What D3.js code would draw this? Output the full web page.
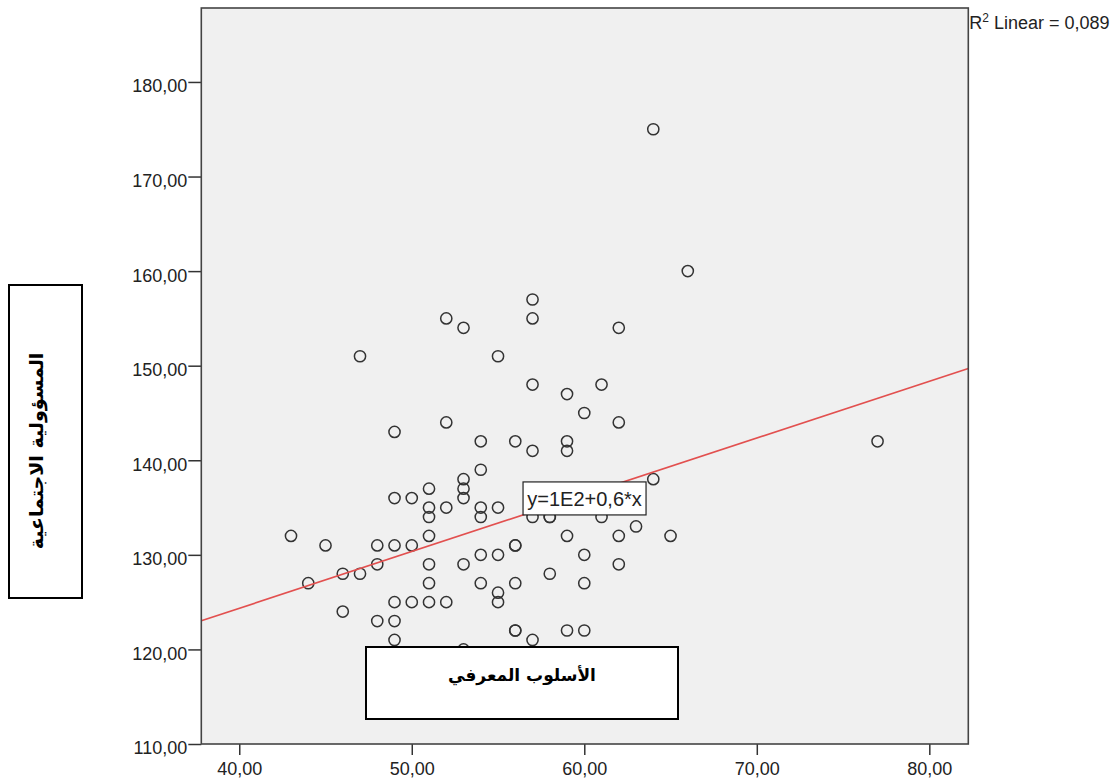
<!DOCTYPE html>
<html lang="ar">
<head>
<meta charset="UTF-8">
<title>Scatter</title>
<script src="https://cdn.jsdelivr.net/npm/d3@7"></script>
<style>
  body { margin: 0; background: #fff; }
  svg text { font-family: "Liberation Sans", Arial, sans-serif; }
</style>
</head>
<body>
<svg id="chart" width="1118" height="780"></svg>
<script>
// data
const cognitiveStyle = [64, 66, 57, 52, 57, 53, 62, 47, 55, 57, 61, 59, 60, 52, 62, 49, 54, 56, 59, 59,
  57, 77, 54, 53, 53, 53, 51, 64, 49, 50, 51, 51, 52, 54, 54, 55, 57, 58, 58, 61,
  63, 59, 62, 65, 43, 45, 48, 49, 50, 51, 48, 46, 47, 44, 51, 51, 53, 54, 55, 56,
  56, 54, 55, 55, 56, 58, 60, 60, 62, 46, 49, 50, 51, 52, 48, 49, 49, 53, 56, 56,
  57, 59, 60];
const socialResp = [175, 160, 157, 155, 155, 154, 154, 151, 151, 148, 148, 147, 145, 144, 144, 143, 142, 142, 142, 141,
  141, 142, 139, 138, 137, 136, 137, 138, 136, 136, 135, 134, 135, 135, 134, 135, 134, 134, 134, 134,
  133, 132, 132, 132, 132, 131, 131, 131, 131, 132, 129, 128, 128, 127, 129, 127, 129, 130, 130, 131,
  131, 127, 126, 125, 127, 128, 130, 127, 129, 124, 125, 125, 125, 125, 123, 123, 121, 120, 122, 122,
  121, 122, 122];

const xTicks = [40, 50, 60, 70, 80];
const yTicks = [110, 120, 130, 140, 150, 160, 170, 180];
const xDomain = [37.8, 82.26];
const yDomain = [110, 187.82];

const fitIntercept = 100.35;
const fitSlope = 0.6;
const fitLabel = "y=1E2+0,6*x";
const fitLabelAt = 56.45;
const r2Value = "0,089";

const xTitle = "الأسلوب المعرفي";
const yTitle = "المسؤولية الاجتماعية";

const fmt = d => d.toFixed(2).replace(".", ",");

const svg = d3.select("#chart");
const plot = { left: 201.3, right: 968.3, top: 8, bottom: 744 };

const x = d3.scaleLinear().domain(xDomain).range([plot.left, plot.right]);
const y = d3.scaleLinear().domain(yDomain).range([plot.bottom, plot.top]);

// plot area
svg.append("rect")
  .attr("x", plot.left).attr("y", plot.top)
  .attr("width", plot.right - plot.left).attr("height", plot.bottom - plot.top)
  .attr("fill", "#f0f0f0");

svg.append("clipPath").attr("id", "clip")
  .append("rect")
  .attr("x", plot.left).attr("y", plot.top)
  .attr("width", plot.right - plot.left).attr("height", plot.bottom - plot.top);

// points
svg.append("g").attr("clip-path", "url(#clip)")
  .selectAll("circle")
  .data(cognitiveStyle.map((v, i) => [v, socialResp[i]]))
  .join("circle")
  .attr("cx", d => x(d[0]))
  .attr("cy", d => y(d[1]))
  .attr("r", 5.6)
  .attr("fill", "none")
  .attr("stroke", "#333")
  .attr("stroke-width", 1.5);

// fit line
const fit = v => fitIntercept + fitSlope * v;
svg.append("line")
  .attr("clip-path", "url(#clip)")
  .attr("x1", x(xDomain[0])).attr("y1", y(fit(xDomain[0])))
  .attr("x2", x(xDomain[1])).attr("y2", y(fit(xDomain[1])))
  .attr("stroke", "#e2504f")
  .attr("stroke-width", 1.7);

// equation label, anchored on the line
const lx = x(fitLabelAt), ly = y(fit(fitLabelAt));
svg.append("rect")
  .attr("x", lx).attr("y", ly - 33)
  .attr("width", 123).attr("height", 33)
  .attr("fill", "#fff").attr("stroke", "#222").attr("stroke-width", 1.2);
svg.append("text")
  .attr("x", lx + 61.5).attr("y", ly - 9)
  .attr("text-anchor", "middle")
  .attr("font-size", 20)
  .attr("fill", "#222")
  .text(fitLabel);

// axes
const yAxis = svg.append("g")
  .attr("transform", `translate(${plot.left},0)`)
  .call(d3.axisLeft(y).tickValues(yTicks).tickFormat(fmt).tickSize(13).tickPadding(1));
const xAxis = svg.append("g")
  .attr("transform", `translate(0,${plot.bottom})`)
  .call(d3.axisBottom(x).tickValues(xTicks).tickFormat(fmt).tickSize(11).tickPadding(7));

[yAxis, xAxis].forEach(g => {
  g.select(".domain").remove();
  g.selectAll("line").attr("stroke", "#333").attr("stroke-width", 1.5);
  g.selectAll("text").attr("font-size", 18).attr("fill", "#222")
    .style("font-family", "'Liberation Sans', Arial, sans-serif");
});
yAxis.selectAll("text").attr("dy", "0.55em");

// frame
svg.append("rect")
  .attr("x", plot.left).attr("y", plot.top)
  .attr("width", plot.right - plot.left).attr("height", plot.bottom - plot.top)
  .attr("fill", "none").attr("stroke", "#444").attr("stroke-width", 1.6);

// R squared note
const r2 = svg.append("text")
  .attr("x", plot.right + 1).attr("y", 29)
  .attr("font-size", 18).attr("fill", "#222");
r2.append("tspan").text("R");
r2.append("tspan").attr("font-size", 12).attr("dy", -7).text("2");
r2.append("tspan").attr("dy", 7).text(" Linear = " + r2Value);

// x title box
svg.append("rect")
  .attr("x", 366).attr("y", 647).attr("width", 312).attr("height", 72)
  .attr("fill", "#fff").attr("stroke", "#000").attr("stroke-width", 2);
svg.append("text")
  .attr("x", 522).attr("y", 681)
  .attr("text-anchor", "middle")
  .attr("font-size", 17).attr("font-weight", "bold")
  .style("font-family", "'DejaVu Sans', sans-serif")
  .attr("fill", "#000")
  .text(xTitle);

// y title box
svg.append("rect")
  .attr("x", 9).attr("y", 285).attr("width", 73).attr("height", 313)
  .attr("fill", "#fff").attr("stroke", "#000").attr("stroke-width", 2);
svg.append("text")
  .attr("transform", "translate(43,451) rotate(-90)")
  .attr("text-anchor", "middle")
  .attr("font-size", 19).attr("font-weight", "bold")
  .style("font-family", "'DejaVu Sans', sans-serif")
  .attr("fill", "#000")
  .text(yTitle);
</script>
</body>
</html>
